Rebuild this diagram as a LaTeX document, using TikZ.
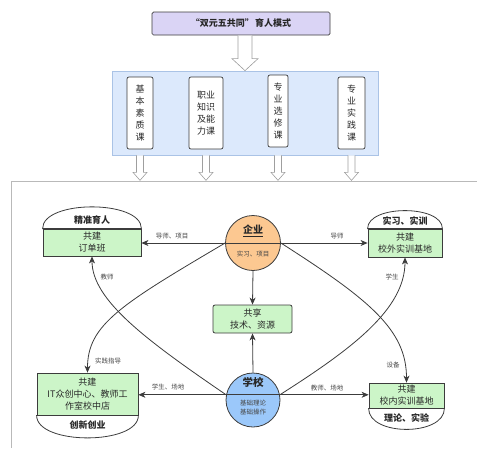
\documentclass[tikz,border=0pt]{standalone}
\usepackage{fontspec}
\setmainfont{Noto Sans CJK SC}
\usetikzlibrary{arrows.meta,calc}

\definecolor{ink}{RGB}{40,40,40}
\definecolor{edge}{RGB}{60,60,60}
\definecolor{boxgreen}{RGB}{204,245,200}
\definecolor{qiyeorange}{RGB}{252,200,145}
\definecolor{schoolblue}{RGB}{155,200,250}
\definecolor{titlelav}{RGB}{218,212,245}
\definecolor{bandblue}{RGB}{220,233,252}
\definecolor{bandedge}{RGB}{170,195,230}
\definecolor{framegray}{RGB}{185,185,185}

\begin{document}
\begin{tikzpicture}[x=1pt,y=-1pt,
  txt/.style={font=\fontsize{9}{12}\selectfont, text=ink, align=center},
  greenbox/.style={txt, draw=edge, line width=0.8pt, fill=boxgreen, inner sep=0pt},
  coursebox/.style={txt, draw=edge, line width=0.7pt, fill=white, rounded corners=2pt, inner sep=0pt},
  domecap/.style={draw=edge, line width=0.8pt, fill=white},
  headtxt/.style={font=\fontsize{9}{11}\selectfont\bfseries, text=ink, inner sep=0pt},
  lbl/.style={font=\fontsize{6.5}{7}\selectfont, text=ink!85, inner sep=1pt},
  link/.style={draw=edge, line width=0.8pt, -{Stealth[length=7pt,width=6pt,inset=2pt]}},
  hollow/.style={draw=gray!75, fill=white, line width=0.6pt, line join=miter},
  hub/.style={circle, draw=edge, line width=0.8pt, minimum size=#1, inner sep=0pt},
]
\useasboundingbox (0,0) rectangle (477,448);

% ---- top: mode title and course band ----
\node[draw=edge, line width=0.7pt, fill=titlelav, rounded corners=1.5pt,
      minimum width=178pt, minimum height=23pt, inner sep=0pt,
      font=\fontsize{9}{11}\selectfont\bfseries, text=ink] (title) at (241,23.5)
      {“双元五共同”\,育人模式};

\node[draw=bandedge, line width=0.7pt, fill=bandblue, minimum width=266pt,
      minimum height=84pt, inner sep=0pt] (band) at (245,113) {};

\draw[hollow] ($(band.north)+(-7,-35)$) -- ++(0,23) -- ++(-6,0) -- (band.north)
      -- ++(13,-12) -- ++(-6,0) -- ++(0,-23);

\node[coursebox, minimum width=26pt, minimum height=72pt] (c1) at (140,113)
      {基\\本\\素\\质\\课};
\node[coursebox, minimum width=34pt, minimum height=72pt] (c2) at (206,113)
      {职业\\知识\\及能\\力课};
\node[coursebox, minimum width=20pt, minimum height=72pt] (c3) at (278,111)
      {专\\业\\选\\修\\课};
\node[coursebox, minimum width=27pt, minimum height=72pt] (c4) at (351.5,113)
      {专\\业\\实\\践\\课};

\foreach \c in {c1,c2,c3,c4}
  \draw[hollow] ($(\c |- band.south)+(-3.5,0)$) -- ++(0,17) -- ++(-3.5,0)
        -- ++(7,8) -- ++(7,-8) -- ++(-3.5,0) -- ++(0,-17);

% ---- frame around the cooperation model ----
\draw[framegray, line width=0.9pt] (477,181) -- (11,181) -- (11,448);

% ---- outcome boxes with their caps ----
\node[greenbox, minimum width=98pt, minimum height=27pt] (jz) at (92,242.5)
      {共建\\订单班};
\draw[domecap] (jz.north west) .. controls ($(jz.north west)+(0,-29)$)
      and ($(jz.north east)+(0,-29)$) .. (jz.north east) -- cycle;
\node[headtxt] (jzhead) at (92,220) {精准育人};

\node[greenbox, minimum width=74pt, minimum height=28pt] (xw) at (405,243)
      {共建\\校外实训基地};
\draw[domecap] (xw.north west) .. controls ($(xw.north west)+(0,-24)$)
      and ($(xw.north east)+(0,-24)$) .. (xw.north east) -- cycle;
\node[headtxt] (xwhead) at (405,221.5) {实习、实训};

\node[greenbox, minimum width=101pt, minimum height=42pt] (it) at (87.5,394)
      {共建\\IT众创中心、教师工\\作室校中店};
\draw[domecap] (it.south west) .. controls ($(it.south west)+(0,30)$)
      and ($(it.south east)+(0,30)$) .. (it.south east) -- cycle;
\node[headtxt] (ithead) at (87.5,425) {创新创业};

\node[greenbox, minimum width=75pt, minimum height=25pt] (xn) at (406.5,395.5)
      {共建\\校内实训基地};
\draw[domecap] (xn.south west) .. controls ($(xn.south west)+(0,28)$)
      and ($(xn.south east)+(0,28)$) .. (xn.south east) -- cycle;
\node[headtxt] (xnhead) at (406.5,418) {理论、实验};

\node[greenbox, rounded corners=2pt, minimum width=79pt, minimum height=28pt] (gx)
      at (252.5,319) {共享\\技术、资源};

% ---- the two partners ----
\node[hub=55pt, fill=qiyeorange] (qiye) at (253,243) {};
\draw[edge, line width=0.8pt] (qiye.west) -- (qiye.east);
\node[font=\fontsize{10}{12}\selectfont\bfseries, text=ink, inner sep=0pt] (qiyename)
      at (253,231) {\underline{企业}};
\node[lbl] (qiyenote) at (253,253.5) {实习、项目};

\node[hub=54pt, fill=schoolblue] (xuexiao) at (253,400) {};
\draw[edge, line width=0.8pt] (xuexiao.169) -- (xuexiao.11);
\node[font=\fontsize{10.5}{12}\selectfont\bfseries, text=ink, inner sep=0pt] (xxname)
      at (253,382) {学校};
\node[font=\fontsize{6.5}{8.5}\selectfont, text=ink!85, align=center, inner sep=0pt]
      (xxnote) at (253,407.5) {基础理论\\基础操作};

% ---- connectors ----
\draw[link] (qiye.west) -- (qiye.west -| jz.east);
\draw[link] (qiye.east) -- (qiye.east -| xw.west);
\draw[link] (qiye.south) -- (gx.north);
\draw[link] (xuexiao.north) -- (gx.south);
\draw[link] (xuexiao.169) -- (xuexiao.169 -| it.east);
\draw[link] (xuexiao.11) -- (xuexiao.11 -| xn.west);

\draw[link] (qiye.west) .. controls (120,305) and (87.5,325) .. (it.north);
\draw[link] (xuexiao.169) .. controls (146,340) and (92,300) .. (jz.south);
\draw[link] (qiye.east) .. controls (370,300) and (406.5,330) .. (xn.north);
\draw[link] (xuexiao.11) .. controls (350,350) and (405,310) .. (xw.south);

% ---- connector labels ----
\node[lbl] (l1) at (172,236) {导师、项目};
\node[lbl] (l2) at (337,236.5) {导师};
\node[lbl] (l3) at (168,387) {学生、场地};
\node[lbl] (l4) at (327,388.5) {教师、场地};
\node[lbl] (l5) at (107,277) {教师};
\node[lbl] (l6) at (108,361) {实践指导};
\node[lbl] (l7) at (392,277) {学生};
\node[lbl] (l8) at (393,365) {设备};
\end{tikzpicture}
\end{document}
